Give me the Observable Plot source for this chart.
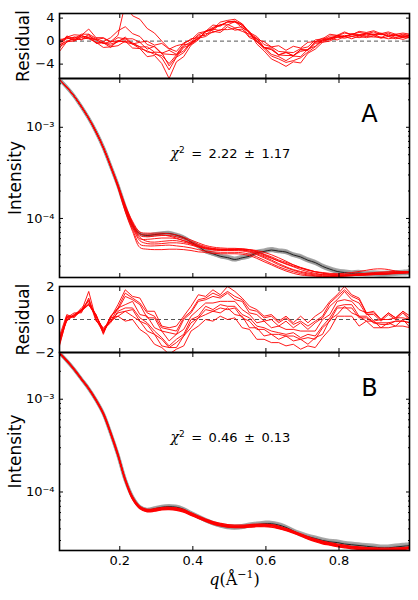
<!DOCTYPE html>
<html><head><meta charset="utf-8">
<script src="https://cdn.jsdelivr.net/npm/d3@7"></script>
<script src="https://cdn.jsdelivr.net/npm/@observablehq/plot@0.6"></script>
<style>
body{margin:0;background:#fff;}
#chart{position:relative;width:418px;height:600px;background:#fff;overflow:hidden;}
#chart svg{position:absolute;left:0;overflow:visible;}
</style></head><body><div id="chart"></div>
<script>
// ---------- data ----------
const q = [0.035,0.055,0.075,0.095,0.115,0.135,0.155,0.175,0.195,0.215,0.235,0.255,0.275,0.295,0.315,0.335,0.355,0.375,0.395,0.415,0.435,0.455,0.475,0.495,0.515,0.535,0.555,0.575,0.595,0.615,0.635,0.655,0.675,0.695,0.715,0.735,0.755,0.775,0.795,0.815,0.835,0.855,0.875,0.895,0.915,0.935,0.955,0.975,0.995];

// residuals, panel A
const resA1 = [-0.3,0.6,0.1,0.9,0.6,0.3,-0.4,-0.1,0.0,0.4,-0.5,-0.2,-1.4,-0.9,-2.1,-1.6,-2.3,-0.6,-0.5,0.9,1.0,2.1,1.8,2.9,2.3,2.5,0.8,0.5,-1.1,-1.2,-2.4,-1.9,-2.6,-1.5,-1.5,-0.2,0.0,0.6,0.6,1.0,0.8,1.1,0.9,1.2,0.6,1.2,0.6,1.0,0.7];
const resA2 = [-1.0,-0.2,0.7,0.2,1.2,-0.4,-0.3,-1.1,0.1,-0.2,-0.5,-1.3,-1.7,-2.3,-2.5,-3.9,-2.4,-1.7,-0.2,0.5,1.6,2.2,2.8,3.3,3.5,2.7,1.4,-0.1,-1.3,-2.6,-3.1,-3.7,-3.4,-2.9,-1.9,-1.0,0.1,0.3,0.8,0.8,1.1,1.0,1.2,1.1,1.3,0.8,1.0,0.6,1.1];
const resA3 = [0.3,0.4,0.7,0.7,0.9,0.3,0.5,-0.2,0.6,0.4,0.4,-0.2,0.0,-0.7,-0.4,-1.4,-0.8,-0.5,0.4,0.6,1.3,1.5,2.0,2.0,2.2,1.7,1.2,0.3,-0.1,-1.0,-0.8,-1.6,-0.9,-1.2,-0.2,-0.1,0.5,0.5,1.0,0.8,1.3,1.1,1.4,1.2,1.4,0.9,1.2,0.7,1.0];
const resA4 = [-1.8,-0.1,0.0,0.6,0.4,-0.2,-1.1,-1.0,-0.8,0.0,-1.2,-1.3,-2.7,-2.5,-3.9,-6.5,-3.6,-2.7,-0.7,0.2,1.8,2.1,3.3,3.6,3.8,3.0,1.5,-0.5,-1.7,-3.1,-3.7,-4.4,-3.6,-3.8,-2.1,-1.4,-0.2,0.0,0.7,0.5,0.8,0.6,0.8,0.7,0.7,0.4,0.6,0.3,0.7];
const resA5 = [-0.8,0.9,0.4,1.2,1.2,0.5,-0.1,0.6,1.8,2.5,1.3,0.8,-0.6,-1.0,-2.2,-2.3,-2.4,-0.9,-0.1,1.1,1.6,2.4,2.7,3.3,3.3,2.8,1.4,0.5,-1.1,-1.5,-2.4,-2.5,-2.5,-1.8,-1.5,-0.1,0.2,0.9,0.9,1.4,1.2,1.5,1.3,1.6,1.1,1.4,0.9,1.2,1.0];
const resA6 = [-0.7,0.0,0.3,0.3,0.6,-0.3,-0.2,-0.8,-0.1,0.0,-0.3,-1.0,-1.0,-1.9,-2.0,-4.3,-2.7,-1.1,-0.6,0.5,0.8,1.7,1.5,2.5,1.9,2.1,0.6,0.1,-1.2,-1.4,-2.4,-2.0,-2.5,-1.5,-1.6,-0.4,-0.2,0.5,0.2,0.8,0.4,0.9,0.6,0.9,0.5,0.8,0.4,0.7,0.6];
const resA7 = [0.0,0.7,1.1,1.0,2.1,0.6,0.6,-0.1,1.0,6.5,4.4,3.8,2.2,1.4,0.0,-1.3,-1.8,-0.3,0.2,1.4,1.7,2.8,2.6,3.4,3.4,3.0,1.5,0.8,-0.6,-1.0,-1.8,-1.9,-2.0,-1.3,-1.0,0.2,0.4,1.2,1.0,1.6,1.1,1.7,1.5,1.8,1.3,1.6,1.2,1.4,1.2];
const resA8 = [-1.3,0.7,0.2,1.0,0.5,0.2,-0.4,-0.5,-0.1,0.7,-0.5,-1.0,-1.9,-2.0,-2.9,-5.0,-2.8,-2.0,-0.3,0.4,1.7,1.9,2.9,2.8,3.4,2.3,1.7,-0.1,-1.0,-2.3,-2.7,-3.4,-2.6,-2.7,-1.4,-0.9,0.3,0.2,1.0,0.7,1.2,0.9,1.3,1.0,1.2,0.9,1.1,0.8,1.1];

// residuals, panel B
const resB1 = [-1.2,0.2,0.2,0.7,1.1,0.2,-0.8,0.1,0.9,1.8,1.4,1.3,0.5,0.5,-0.4,-0.5,-0.4,0.2,0.8,1.5,1.4,1.8,1.5,2.0,1.7,1.3,0.8,0.6,0.2,0.3,-0.1,0.2,-0.2,0.2,-0.2,0.2,0.5,1.1,1.5,2.0,1.5,1.3,0.4,0.5,0.0,0.4,0.1,0.5,0.2];
const resB2 = [-1.5,0.0,0.3,0.6,0.9,0.3,-0.9,0.2,0.6,1.4,1.2,0.9,0.1,0.1,-0.7,-0.8,-0.9,0.0,0.4,1.1,1.2,1.4,1.3,1.6,1.2,1.1,0.4,0.3,-0.1,0.0,-0.4,-0.1,-0.5,-0.2,-0.6,-0.2,0.1,0.8,1.2,1.7,1.2,1.0,0.3,0.3,-0.1,0.3,0.0,0.4,-0.1];
const resB3 = [-1.1,-0.1,0.3,0.5,1.2,-0.1,-0.5,-0.1,0.7,0.9,1.1,0.3,0.2,-0.5,-0.7,-1.3,-0.9,-0.6,0.2,0.6,1.0,1.0,1.1,1.1,1.1,0.6,0.3,-0.2,-0.1,-0.5,-0.4,-0.6,-0.6,-0.7,-0.7,-0.7,0.0,0.3,1.1,1.2,1.1,0.6,0.4,-0.1,0.0,0.0,0.1,0.1,0.0];
const resB4 = [-1.4,0.2,0.2,0.5,0.9,0.2,-0.6,-0.2,0.5,0.7,0.7,0.1,-0.2,-0.7,-1.1,-1.6,-1.2,-0.9,0.0,0.2,0.8,0.6,0.9,0.8,0.8,0.3,0.1,-0.4,-0.5,-0.7,-0.8,-0.9,-0.8,-1.1,-0.9,-1.0,-0.4,0.1,0.8,0.9,0.9,0.2,0.2,-0.2,-0.2,-0.2,-0.1,-0.1,-0.2];
const resB5 = [-1.6,0.1,0.4,0.4,1.3,0.0,-0.8,0.1,0.2,0.5,0.2,-0.1,-0.7,-0.9,-1.6,-1.7,-1.7,-1.0,-0.5,0.1,0.3,0.5,0.4,0.7,0.3,0.2,-0.5,-0.5,-1.0,-0.9,-1.2,-1.0,-1.3,-1.2,-1.5,-1.1,-0.9,0.0,0.3,0.8,0.4,0.2,-0.1,-0.1,-0.5,-0.2,-0.4,0.0,-0.5];
const resB6 = [-1.0,0.3,0.1,0.6,1.0,0.3,-0.7,0.2,0.7,1.6,1.3,1.0,0.4,0.2,-0.5,-0.6,-0.7,0.1,0.5,1.2,1.3,1.6,1.4,1.7,1.4,1.2,0.6,0.5,0.1,0.2,-0.2,0.1,-0.3,-0.1,-0.4,-0.1,0.2,1.0,1.4,1.8,1.4,1.2,0.4,0.4,0.0,0.4,0.1,0.5,0.0];
const resB7 = [-1.3,0.0,0.2,0.5,1.7,0.0,-0.7,-0.1,0.4,0.5,0.6,-0.1,-0.3,-0.9,-1.2,-1.7,-1.4,-1.0,-0.2,0.1,0.6,0.5,0.7,0.6,0.7,0.1,-0.1,-0.6,-0.6,-0.9,-0.9,-1.0,-1.0,-1.2,-1.1,-1.2,-0.5,-0.1,0.7,0.7,0.7,0.1,0.1,-0.2,-0.3,-0.3,-0.1,-0.1,-0.2];
const resB8 = [-1.2,0.1,0.2,0.6,0.9,0.2,-0.6,-0.1,0.2,-0.1,0.0,-0.6,-0.9,-1.5,-1.7,-2.1,-1.8,-1.6,-0.7,-0.4,0.0,-0.1,0.2,0.0,0.1,-0.5,-0.6,-1.2,-1.2,-1.4,-1.4,-1.6,-1.5,-1.8,-1.6,-1.7,-1.1,-0.6,0.2,0.2,0.2,-0.4,-0.1,-0.5,-0.5,-0.5,-0.4,-0.4,-0.5];

// experimental intensity + relative error
const expA = [3.35e-3,2.75e-3,2.2e-3,1.68e-3,1.25e-3,8.9e-4,6.0e-4,3.75e-4,2.3e-4,1.32e-4,8.3e-5,6.8e-5,6.5e-5,6.65e-5,6.8e-5,6.85e-5,6.55e-5,6.15e-5,5.5e-5,4.95e-5,4.35e-5,4.1e-5,3.85e-5,3.72e-5,3.55e-5,3.7e-5,3.85e-5,4.2e-5,4.35e-5,4.5e-5,4.38e-5,4.28e-5,3.98e-5,3.78e-5,3.48e-5,3.28e-5,2.98e-5,2.78e-5,2.62e-5,2.55e-5,2.5e-5,2.52e-5,2.47e-5,2.48e-5,2.45e-5,2.47e-5,2.5e-5,2.52e-5,2.55e-5];
const expB = [3.15e-3,2.6e-3,2.1e-3,1.65e-3,1.3e-3,9.8e-4,7.0e-4,4.3e-4,2.5e-4,1.35e-4,8.8e-5,6.9e-5,6.4e-5,6.6e-5,6.85e-5,6.95e-5,6.85e-5,6.5e-5,5.9e-5,5.4e-5,4.95e-5,4.6e-5,4.35e-5,4.2e-5,4.15e-5,4.2e-5,4.35e-5,4.45e-5,4.55e-5,4.55e-5,4.4e-5,4.15e-5,3.8e-5,3.5e-5,3.3e-5,3.15e-5,3.0e-5,2.9e-5,2.85e-5,2.75e-5,2.7e-5,2.65e-5,2.6e-5,2.55e-5,2.5e-5,2.5e-5,2.55e-5,2.6e-5,2.65e-5];
const errRel = [0.01,0.01,0.012,0.012,0.014,0.015,0.017,0.02,0.025,0.03,0.035,0.04,0.045,0.05,0.05,0.055,0.055,0.055,0.06,0.06,0.06,0.06,0.06,0.065,0.065,0.065,0.065,0.065,0.065,0.065,0.065,0.065,0.065,0.07,0.07,0.07,0.07,0.07,0.07,0.07,0.07,0.07,0.07,0.075,0.075,0.075,0.075,0.075,0.075];

// model intensities, panel A
const modA1 = [3.35e-3,2.75e-3,2.2e-3,1.69e-3,1.26e-3,8.9e-4,6.0e-4,3.8e-4,2.35e-4,1.4e-4,9.3e-5,7.1e-5,6.9e-5,6.9e-5,6.9e-5,6.8e-5,6.6e-5,6.2e-5,5.8e-5,5.4e-5,5.05e-5,4.85e-5,4.75e-5,4.7e-5,4.7e-5,4.65e-5,4.55e-5,4.35e-5,4.05e-5,3.8e-5,3.5e-5,3.3e-5,3.1e-5,2.9e-5,2.75e-5,2.6e-5,2.5e-5,2.42e-5,2.38e-5,2.36e-5,2.36e-5,2.38e-5,2.4e-5,2.42e-5,2.45e-5,2.48e-5,2.5e-5,2.55e-5,2.58e-5];
const modA2 = [3.35e-3,2.75e-3,2.19e-3,1.68e-3,1.25e-3,8.9e-4,5.95e-4,3.75e-4,2.3e-4,1.36e-4,8.8e-5,6.5e-5,6.3e-5,6.4e-5,6.5e-5,6.5e-5,6.3e-5,6.0e-5,5.6e-5,5.2e-5,4.9e-5,4.7e-5,4.6e-5,4.55e-5,4.55e-5,4.5e-5,4.4e-5,4.2e-5,3.9e-5,3.65e-5,3.4e-5,3.2e-5,3.0e-5,2.85e-5,2.7e-5,2.6e-5,2.55e-5,2.5e-5,2.48e-5,2.5e-5,2.55e-5,2.62e-5,2.7e-5,2.78e-5,2.8e-5,2.75e-5,2.65e-5,2.6e-5,2.58e-5];
const modA3 = [3.34e-3,2.74e-3,2.2e-3,1.68e-3,1.25e-3,8.85e-4,5.95e-4,3.7e-4,2.28e-4,1.33e-4,8.5e-5,6.0e-5,5.9e-5,6.0e-5,6.1e-5,6.1e-5,6.0e-5,5.7e-5,5.4e-5,5.05e-5,4.8e-5,4.65e-5,4.6e-5,4.6e-5,4.62e-5,4.6e-5,4.5e-5,4.3e-5,4.0e-5,3.7e-5,3.4e-5,3.15e-5,2.95e-5,2.75e-5,2.6e-5,2.5e-5,2.42e-5,2.38e-5,2.35e-5,2.35e-5,2.36e-5,2.38e-5,2.42e-5,2.45e-5,2.48e-5,2.5e-5,2.52e-5,2.55e-5,2.6e-5];
const modA4 = [3.35e-3,2.75e-3,2.2e-3,1.69e-3,1.26e-3,8.95e-4,6.0e-4,3.72e-4,2.22e-4,1.22e-4,7.6e-5,5.2e-5,5.0e-5,5.0e-5,5.05e-5,5.1e-5,5.0e-5,4.9e-5,4.75e-5,4.55e-5,4.4e-5,4.3e-5,4.25e-5,4.25e-5,4.25e-5,4.2e-5,4.05e-5,3.8e-5,3.5e-5,3.2e-5,2.95e-5,2.75e-5,2.6e-5,2.48e-5,2.4e-5,2.35e-5,2.32e-5,2.3e-5,2.3e-5,2.32e-5,2.35e-5,2.38e-5,2.4e-5,2.42e-5,2.43e-5,2.45e-5,2.48e-5,2.5e-5,2.52e-5];
const modA5 = [3.36e-3,2.76e-3,2.21e-3,1.7e-3,1.26e-3,8.9e-4,5.95e-4,3.68e-4,2.18e-4,1.18e-4,7.2e-5,4.8e-5,4.6e-5,4.55e-5,4.55e-5,4.6e-5,4.6e-5,4.55e-5,4.45e-5,4.3e-5,4.25e-5,4.15e-5,4.1e-5,4.1e-5,4.1e-5,4.05e-5,3.9e-5,3.65e-5,3.35e-5,3.1e-5,2.85e-5,2.65e-5,2.5e-5,2.4e-5,2.35e-5,2.32e-5,2.3e-5,2.3e-5,2.32e-5,2.35e-5,2.38e-5,2.4e-5,2.42e-5,2.44e-5,2.46e-5,2.48e-5,2.5e-5,2.52e-5,2.55e-5];
const modA6 = [3.35e-3,2.75e-3,2.2e-3,1.68e-3,1.25e-3,8.9e-4,6.0e-4,3.75e-4,2.3e-4,1.32e-4,8.4e-5,6.2e-5,5.6e-5,5.5e-5,5.6e-5,5.7e-5,5.7e-5,5.5e-5,5.25e-5,4.95e-5,4.75e-5,4.6e-5,4.55e-5,4.55e-5,4.55e-5,4.5e-5,4.35e-5,4.1e-5,3.8e-5,3.5e-5,3.2e-5,2.95e-5,2.75e-5,2.62e-5,2.52e-5,2.45e-5,2.42e-5,2.4e-5,2.4e-5,2.42e-5,2.45e-5,2.48e-5,2.5e-5,2.5e-5,2.5e-5,2.52e-5,2.55e-5,2.58e-5,2.6e-5];
const modA7 = [3.35e-3,2.75e-3,2.2e-3,1.68e-3,1.26e-3,8.95e-4,6.05e-4,3.8e-4,2.33e-4,1.37e-4,9.0e-5,6.8e-5,6.6e-5,6.6e-5,6.6e-5,6.4e-5,6.1e-5,5.7e-5,5.3e-5,4.95e-5,4.7e-5,4.55e-5,4.5e-5,4.5e-5,4.55e-5,4.6e-5,4.55e-5,4.45e-5,4.25e-5,4.0e-5,3.7e-5,3.4e-5,3.1e-5,2.88e-5,2.72e-5,2.6e-5,2.52e-5,2.46e-5,2.42e-5,2.4e-5,2.4e-5,2.42e-5,2.45e-5,2.5e-5,2.55e-5,2.6e-5,2.62e-5,2.62e-5,2.62e-5];
const modA8 = [3.34e-3,2.74e-3,2.19e-3,1.67e-3,1.25e-3,8.85e-4,5.95e-4,3.72e-4,2.25e-4,1.27e-4,8.0e-5,5.7e-5,5.3e-5,5.25e-5,5.3e-5,5.4e-5,5.4e-5,5.3e-5,5.1e-5,4.85e-5,4.65e-5,4.5e-5,4.45e-5,4.45e-5,4.45e-5,4.4e-5,4.25e-5,4.0e-5,3.7e-5,3.4e-5,3.1e-5,2.88e-5,2.7e-5,2.56e-5,2.46e-5,2.4e-5,2.36e-5,2.34e-5,2.34e-5,2.36e-5,2.4e-5,2.45e-5,2.5e-5,2.55e-5,2.58e-5,2.58e-5,2.56e-5,2.56e-5,2.58e-5];

// model intensities, panel B
const modB1 = [3.15e-3,2.6e-3,2.1e-3,1.66e-3,1.3e-3,9.7e-4,6.9e-4,4.3e-4,2.5e-4,1.38e-4,8.9e-5,7.0e-5,6.5e-5,6.6e-5,6.8e-5,6.85e-5,6.75e-5,6.45e-5,5.95e-5,5.5e-5,5.1e-5,4.8e-5,4.6e-5,4.45e-5,4.4e-5,4.4e-5,4.45e-5,4.5e-5,4.5e-5,4.45e-5,4.3e-5,4.05e-5,3.8e-5,3.55e-5,3.3e-5,3.1e-5,2.95e-5,2.85e-5,2.75e-5,2.68e-5,2.6e-5,2.56e-5,2.52e-5,2.5e-5,2.48e-5,2.48e-5,2.5e-5,2.52e-5,2.58e-5];
const modB2 = [3.15e-3,2.6e-3,2.1e-3,1.65e-3,1.29e-3,9.7e-4,6.9e-4,4.25e-4,2.45e-4,1.36e-4,8.7e-5,6.9e-5,6.4e-5,6.5e-5,6.7e-5,6.75e-5,6.65e-5,6.35e-5,5.9e-5,5.45e-5,5.0e-5,4.7e-5,4.5e-5,4.35e-5,4.3e-5,4.3e-5,4.35e-5,4.4e-5,4.4e-5,4.35e-5,4.2e-5,4.0e-5,3.75e-5,3.5e-5,3.25e-5,3.05e-5,2.9e-5,2.8e-5,2.7e-5,2.62e-5,2.56e-5,2.52e-5,2.48e-5,2.45e-5,2.43e-5,2.43e-5,2.45e-5,2.48e-5,2.53e-5];
const modB3 = [3.15e-3,2.6e-3,2.1e-3,1.65e-3,1.3e-3,9.8e-4,7.0e-4,4.3e-4,2.5e-4,1.35e-4,8.6e-5,6.8e-5,6.3e-5,6.4e-5,6.6e-5,6.65e-5,6.55e-5,6.25e-5,5.8e-5,5.35e-5,4.95e-5,4.65e-5,4.45e-5,4.3e-5,4.25e-5,4.25e-5,4.3e-5,4.35e-5,4.35e-5,4.3e-5,4.15e-5,3.95e-5,3.7e-5,3.45e-5,3.2e-5,3.0e-5,2.85e-5,2.75e-5,2.65e-5,2.58e-5,2.52e-5,2.48e-5,2.45e-5,2.42e-5,2.4e-5,2.4e-5,2.42e-5,2.45e-5,2.5e-5];
const modB4 = [3.14e-3,2.59e-3,2.09e-3,1.64e-3,1.3e-3,9.8e-4,7.05e-4,4.35e-4,2.55e-4,1.33e-4,8.4e-5,6.7e-5,6.2e-5,6.3e-5,6.5e-5,6.55e-5,6.45e-5,6.15e-5,5.7e-5,5.25e-5,4.88e-5,4.58e-5,4.38e-5,4.24e-5,4.18e-5,4.18e-5,4.22e-5,4.28e-5,4.28e-5,4.22e-5,4.08e-5,3.88e-5,3.64e-5,3.4e-5,3.15e-5,2.96e-5,2.81e-5,2.71e-5,2.61e-5,2.54e-5,2.48e-5,2.44e-5,2.41e-5,2.38e-5,2.37e-5,2.37e-5,2.39e-5,2.42e-5,2.47e-5];
const modB5 = [3.15e-3,2.6e-3,2.1e-3,1.65e-3,1.31e-3,9.9e-4,7.1e-4,4.4e-4,2.55e-4,1.32e-4,8.3e-5,6.6e-5,6.1e-5,6.2e-5,6.4e-5,6.45e-5,6.35e-5,6.05e-5,5.6e-5,5.2e-5,4.8e-5,4.5e-5,4.3e-5,4.17e-5,4.12e-5,4.12e-5,4.17e-5,4.22e-5,4.22e-5,4.17e-5,4.02e-5,3.83e-5,3.59e-5,3.35e-5,3.1e-5,2.91e-5,2.76e-5,2.67e-5,2.57e-5,2.5e-5,2.44e-5,2.4e-5,2.38e-5,2.35e-5,2.34e-5,2.34e-5,2.36e-5,2.39e-5,2.44e-5];
const modB6 = [3.16e-3,2.61e-3,2.11e-3,1.66e-3,1.3e-3,9.75e-4,6.95e-4,4.3e-4,2.48e-4,1.37e-4,8.8e-5,6.85e-5,6.25e-5,6.3e-5,6.5e-5,6.6e-5,6.6e-5,6.35e-5,5.9e-5,5.4e-5,4.95e-5,4.6e-5,4.38e-5,4.25e-5,4.22e-5,4.25e-5,4.32e-5,4.4e-5,4.42e-5,4.38e-5,4.22e-5,3.98e-5,3.7e-5,3.42e-5,3.18e-5,2.98e-5,2.84e-5,2.74e-5,2.66e-5,2.6e-5,2.55e-5,2.5e-5,2.46e-5,2.42e-5,2.4e-5,2.41e-5,2.44e-5,2.48e-5,2.54e-5];

// ticks, labels, annotations
const xTicks = [0.2, 0.4, 0.6, 0.8];
const xTickLabels = ["0.2", "0.4", "0.6", "0.8"];
const resATicks = [-4, 0, 4], resATickLabels = ["\u22124", "0", "4"];
const resBTicks = [-2, 0, 2], resBTickLabels = ["\u22122", "0", "2"];
const intTicks = [1e-4, 1e-3], intTickLabels = ["10\u207B\u2074", "10\u207B\u00B3"];
const intMinor = [3e-5,4e-5,5e-5,6e-5,7e-5,8e-5,9e-5,2e-4,3e-4,4e-4,5e-4,6e-4,7e-4,8e-4,9e-4,2e-3,3e-3];
const chiA = ["2.22", "1.17"], chiB = ["0.46", "0.13"];
const panelLabels = ["A", "B"];
const xLabel = "q(\u00C5\u207B\u00B9)";

// ---------- helpers ----------
const RED = "#ff0000";
const xDomain = [0.035, 0.993];
const chart = document.getElementById("chart");

function rows(curves) {
  const out = [];
  curves.forEach((c, s) => c.forEach((v, k) => out.push({q: q[k], v, s})));
  return out;
}
function expRows(vals) {
  return vals.map((v, k) => ({q: q[k], v, lo: v * (1 - errRel[k]), hi: v * (1 + errRel[k])}));
}
const lab = (ticks, labels) => d => labels[ticks.indexOf(d)];
const blank = () => "";

function frameTicks(major, minor) {
  const m = [
    Plot.axisX(xTicks, {anchor: "top", tickSize: -4, tickFormat: blank}),
    Plot.axisX(xTicks, {anchor: "bottom", tickSize: -4, tickFormat: blank}),
    Plot.axisY(major, {anchor: "left", tickSize: -4, tickFormat: blank}),
    Plot.axisY(major, {anchor: "right", tickSize: -4, tickFormat: blank})
  ];
  if (minor) {
    m.push(Plot.axisY(minor, {anchor: "left", tickSize: -2, tickFormat: blank}));
    m.push(Plot.axisY(minor, {anchor: "right", tickSize: -2, tickFormat: blank}));
  }
  return m;
}

function panel(top, height, mt, mb, y, marks) {
  const svg = Plot.plot({
    width: 418, height, marginTop: mt, marginBottom: mb, marginLeft: 59, marginRight: 9,
    style: {background: "transparent", overflow: "visible", fontFamily: "'DejaVu Sans', sans-serif", fontSize: "13px", color: "#000"},
    x: {domain: xDomain, label: null},
    y: {...y, label: null},
    marks
  });
  svg.style.top = top + "px";
  chart.appendChild(svg);
  return svg;
}

function residualPanel(top, height, mt, domain, curves, ticks, tickLabels) {
  return panel(top, height, mt, 0, {domain}, [
    Plot.ruleY([0], {stroke: "#555", strokeDasharray: "4,3", strokeWidth: 1}),
    Plot.line(rows(curves), {x: "q", y: "v", z: "s", stroke: RED, strokeWidth: 0.9, clip: true}),
    ...frameTicks(ticks),
    Plot.axisY(ticks, {anchor: "left", tickSize: 0, tickPadding: 5, tickFormat: lab(ticks, tickLabels)}),
    Plot.text(["Residual"], {frameAnchor: "left", rotate: -90, dx: -36, fontSize: 17, textAnchor: "middle", lineAnchor: "middle"}),
    Plot.frame({stroke: "#000", strokeWidth: 1.6})
  ]);
}

function intensityPanel(top, height, mb, domain, exp, models, letter, chi, chiDy, xLabels, redWidth) {
  const er = expRows(exp);
  const marks = [
    Plot.areaY(er, {x: "q", y1: "lo", y2: "hi", fill: "#999", fillOpacity: 0.85, curve: "catmull-rom", clip: true}),
    Plot.line(er, {x: "q", y: "v", stroke: "#999", strokeWidth: 3.5, curve: "catmull-rom", clip: true}),
    Plot.line(er, {x: "q", y: "v", stroke: "#222", strokeWidth: 1, curve: "catmull-rom", clip: true}),
    Plot.line(rows(models), {x: "q", y: "v", z: "s", stroke: RED, strokeWidth: redWidth, curve: "catmull-rom", clip: true}),
    ...frameTicks(intTicks, intMinor),
    Plot.axisY(intTicks, {anchor: "left", tickSize: 0, tickPadding: 5, tickFormat: lab(intTicks, intTickLabels)}),
    Plot.text(["Intensity"], {frameAnchor: "left", rotate: -90, dx: -44, fontSize: 17, textAnchor: "middle", lineAnchor: "middle"}),
    Plot.text([letter], {frameAnchor: "top-right", dx: -40, dy: 36, fontSize: 24, textAnchor: "middle", lineAnchor: "middle"}),
    Plot.text(["\u03C72\u2002=\u2002" + chi[0] + "\u2002\u00B1\u2002" + chi[1]], {frameAnchor: "top-left", dx: 111, dy: chiDy, fontSize: 13, textAnchor: "start", lineAnchor: "middle"}),
    Plot.frame({stroke: "#000", strokeWidth: 1.6})
  ];
  if (xLabels) {
    marks.push(Plot.axisX(xTicks, {anchor: "bottom", tickSize: 0, tickPadding: 5, tickFormat: lab(xTicks, xTickLabels)}));
    marks.push(Plot.text([xLabel], {frameAnchor: "bottom", dy: 29, fontSize: 16, textAnchor: "middle", lineAnchor: "middle"}));
  }
  return panel(top, height, 0, mb, {type: "log", domain}, marks);
}

// ---------- panels ----------
const s1 = residualPanel(0, 78, 13, [-6.5, 4.8], [resA1,resA2,resA3,resA4,resA5,resA6,resA7,resA8], resATicks, resATickLabels);
const s2 = intensityPanel(78, 199, 0, [2.25e-5, 3.43e-3], expA, [modA1,modA2,modA3,modA4,modA5,modA6,modA7,modA8], panelLabels[0], chiA, 75, false, 0.9);
const s3 = residualPanel(286, 66, 0, [-2, 2], [resB1,resB2,resB3,resB4,resB5,resB6,resB7,resB8], resBTicks, resBTickLabels);
const s4 = intensityPanel(352, 248, 50, [2.34e-5, 3.19e-3], expB, [modB1,modB2,modB3,modB4,modB5,modB6], panelLabels[1], chiB, 85, true, 1.2);

// ---------- rich text (math-style) ----------
[s2, s4].forEach(svg => {
  d3.select(svg).selectAll("text").each(function() {
    const t = this.textContent;
    const sel = d3.select(this);
    if (t.startsWith("\u03C72")) {
      const rest = t.slice(2);
      sel.text(null);
      sel.append("tspan").attr("font-family", "'DejaVu Serif', serif").attr("font-style", "italic").attr("font-size", 14).text("\u03C7");
      sel.append("tspan").attr("font-size", 9).attr("dy", -5).text("2");
      sel.append("tspan").attr("dy", 5).text(rest);
    } else if (t === xLabel) {
      sel.text(null).attr("font-family", "'DejaVu Serif', serif");
      sel.append("tspan").attr("font-style", "italic").text("q");
      sel.append("tspan").text("(\u00C5");
      sel.append("tspan").attr("font-size", 11).attr("dy", -7).text("\u22121");
      sel.append("tspan").attr("dy", 7).text(")");
    }
  });
});
</script></body></html>
